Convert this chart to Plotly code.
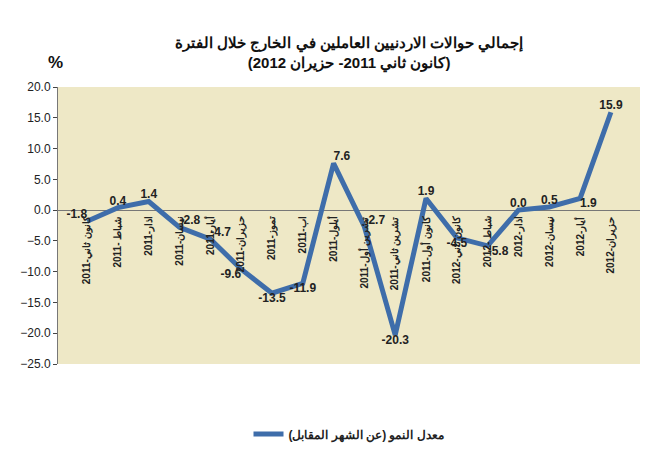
import plotly.graph_objects as go

months = ["كانون ثاني-2011", "شباط -2011", "اذار-2011", "نيسان-2011", "أيار-2011", "حزيران-2011",
          "تموز-2011", "اب-2011", "أيلول-2011", "تشرين أول-2011", "تشرين ثاني-2011", "كانون أول-2011",
          "كانون ثاني-2012", "شباط -2012", "اذار-2012", "نيسان-2012", "أيار-2012", "حزيران-2012"]
growth = [-1.8, 0.4, 1.4, -2.8, -4.7, -9.6, -13.5, -11.9, 7.6, -2.7, -20.3, 1.9, -4.5, -5.8, 0.0, 0.5, 1.9, 15.9]
label_pos = ["top left", "top center", "top center", "top right", "top right", "bottom left",
             "bottom center", "bottom center", "top right", "top right", "bottom center", "top center",
             "bottom center", "bottom right", "top center", "top center", "bottom right", "top center"]

fig = go.Figure()
fig.add_trace(go.Scatter(
    x=months, y=growth, mode="lines+text",
    line=dict(color="#3E6DAA", width=5),
    text=[f"<b>{v:.1f}</b>" for v in growth], textposition=label_pos,
    textfont=dict(size=12, color="#222", family="Liberation Sans"),
    name="<b>معدل النمو (عن الشهر المقابل)</b>", cliponaxis=False,
))

for m in months:
    fig.add_annotation(x=m, y=0, text=f"<b>{m}</b>", textangle=-90, showarrow=False,
                       yanchor="top", xanchor="center", yshift=-4,
                       font=dict(size=10, color="#222", family="Liberation Sans"))

fig.add_annotation(x=0.5, y=1.2, xref="paper", yref="paper", showarrow=False,
                   text="<b>إجمالي حوالات الاردنيين العاملين في الخارج خلال الفترة<br>(كانون ثاني 2011- حزيران 2012)</b>",
                   font=dict(size=15, color="#111", family="Liberation Sans"))
fig.add_annotation(x=-0.02, y=1.13, xref="paper", yref="paper", showarrow=False,
                   text="<b>%</b>", font=dict(size=17, color="#111", family="Liberation Sans"))

fig.update_layout(
    width=651, height=466,
    margin=dict(l=47, r=19, t=79, b=110),
    plot_bgcolor="#EEE8C6", paper_bgcolor="white",
    font=dict(family="Liberation Sans", color="#222"),
    showlegend=True,
    legend=dict(orientation="h", x=0.5, xanchor="center", y=-0.2, yanchor="top",
                font=dict(size=12)),
    xaxis=dict(showticklabels=False, showgrid=False, ticks="", zeroline=False),
    yaxis=dict(range=[-25, 20], dtick=5, tickformat=".1f", showgrid=False,
               zeroline=True, zerolinecolor="#777", zerolinewidth=1,
               showline=True, linecolor="#777", ticks="outside", ticklen=4,
               tickfont=dict(size=12, family="Liberation Sans", color="#222")),
)
fig.write_html("out.html")
